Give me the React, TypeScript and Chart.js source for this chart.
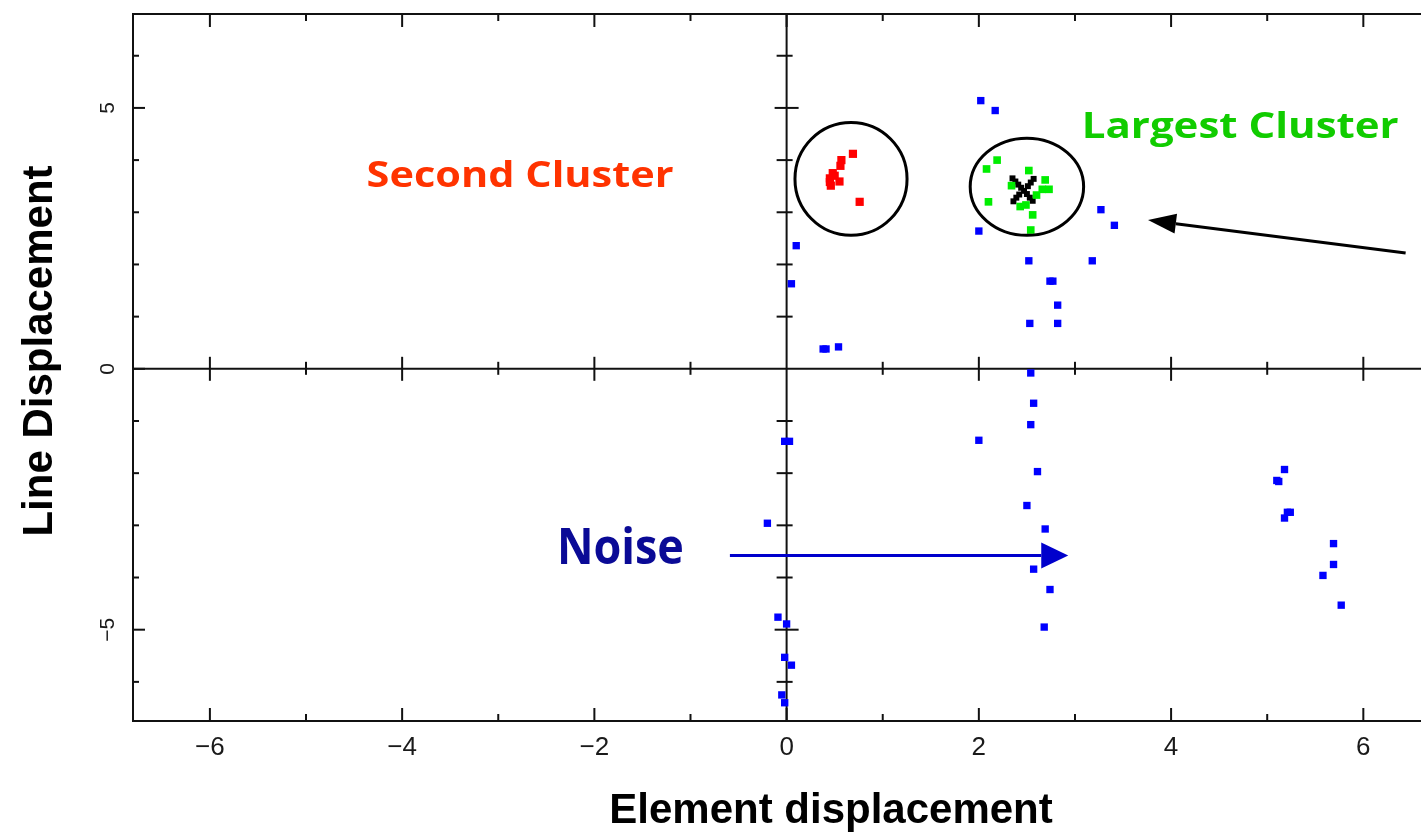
import React, { useEffect, useRef } from "react";
import { Chart, registerables } from "chart.js";

Chart.register(...registerables);

// ---------- data ----------
const blueX = [2.02, 2.17, 0.10, 0.05, 0.41, 0.54, 2.00, 2.52, 2.77, 2.82, 2.53, 2.82, 3.27, 3.41, 3.18,
  2.54, 2.57, 2.54, 2.00, -0.02, 2.61, 2.50, 2.69, -0.20, 2.57, 2.74, 2.68, -0.09, 0.00, -0.02, 0.05, -0.05, -0.02,
  5.18, 5.12, 5.24, 5.18, 5.69, 5.69, 5.58, 5.77, 2.74, 0.38, 5.10, 5.21, 0.03];
const blueY = [5.14, 4.95, 2.36, 1.63, 0.38, 0.42, 2.64, 2.07, 1.68, 1.22, 0.87, 0.87, 3.05, 2.75, 2.07,
  -0.08, -0.66, -1.07, -1.37, -1.39, -1.97, -2.62, -3.07, -2.96, -3.84, -4.23, -4.95, -4.76, -4.89, -5.53, -5.68, -6.25, -6.40,
  -1.93, -2.16, -2.75, -2.86, -3.35, -3.75, -3.96, -4.53, 1.68, 0.38, -2.14, -2.75, -1.39];

const redX = [0.69, 0.57, 0.56, 0.48, 0.45, 0.55, 0.46, 0.76, 0.50, 0.45];
const redY = [4.12, 4.00, 3.89, 3.75, 3.65, 3.59, 3.51, 3.20, 3.70, 3.58];

const greenX = [2.19, 2.08, 2.52, 2.69, 2.73, 2.66, 2.34, 2.60, 2.10, 2.43, 2.49, 2.56, 2.54];
const greenY = [4.00, 3.83, 3.80, 3.62, 3.44, 3.44, 3.51, 3.33, 3.20, 3.11, 3.14, 2.95, 2.66];

const blackX = [2.35, 2.38, 2.41, 2.44, 2.47, 2.50, 2.53, 2.56, 2.57, 2.54, 2.51, 2.42, 2.39, 2.36];
const blackY = [3.65, 3.59, 3.53, 3.47, 3.41, 3.35, 3.28, 3.22, 3.64, 3.57, 3.50, 3.34, 3.28, 3.21];

const xMajorTicks = [-6, -4, -2, 0, 2, 4, 6];
const xMinorTicks = [-5, -3, -1, 1, 3, 5];
const yMajorTicks = [-5, 0, 5];
const yMinorTicks = [-6, -4, -3, -2, -1, 1, 2, 3, 4, 6];

const xTitle = "Element displacement";
const yTitle = "Line Displacement";
const secondLabel = "Second Cluster";
const largestLabel = "Largest Cluster";
const noiseLabel = "Noise";

const X_MIN = -6.8, X_MAX = 6.6, Y_MIN = -6.75, Y_MAX = 6.8;

// annotation placement (data coordinates)
const ANNOT = {
  secondText: { x: -4.37, y: 3.49, capH: 26, width: 307, color: "#ff3300" },
  largestText: { x: 3.07, y: 4.43, capH: 26, width: 317, color: "#11cc00" },
  noiseText: { x: -2.39, y: -3.75, capH: 36, width: 127, color: "#0a0a96" },
  circle1: { x: 0.67, y: 3.64, rx: 0.583, ry: 1.08 },
  circle2: { x: 2.50, y: 3.49, rx: 0.59, ry: 0.93 },
  blackArrow: { x1: 6.44, y1: 2.22, x2: 3.76, y2: 2.85 },
  blueArrow: { x1: -0.59, y1: -3.58, x2: 2.93, y2: -3.58 },
};

const fmt = (v: number) => (v < 0 ? "\u2212" + Math.abs(v) : String(v));

function pts(xs: number[], ys: number[]) {
  return xs.map((x, i) => ({ x, y: ys[i] }));
}

function drawArrow(ctx: CanvasRenderingContext2D, x1: number, y1: number, x2: number, y2: number,
  headLen: number, headHalf: number, color: string, lw: number) {
  const ang = Math.atan2(y2 - y1, x2 - x1);
  const bx = x2 - headLen * Math.cos(ang);
  const by = y2 - headLen * Math.sin(ang);
  ctx.save();
  ctx.strokeStyle = color;
  ctx.fillStyle = color;
  ctx.lineWidth = lw;
  ctx.beginPath();
  ctx.moveTo(x1, y1);
  ctx.lineTo(bx, by);
  ctx.stroke();
  ctx.beginPath();
  ctx.moveTo(x2, y2);
  ctx.lineTo(bx + headHalf * Math.sin(ang), by - headHalf * Math.cos(ang));
  ctx.lineTo(bx - headHalf * Math.sin(ang), by + headHalf * Math.cos(ang));
  ctx.closePath();
  ctx.fill();
  ctx.restore();
}

function fitText(ctx: CanvasRenderingContext2D, text: string, left: number, baseline: number,
  capH: number, width: number, color: string) {
  const size = capH / 0.72;
  ctx.save();
  ctx.font = `bold ${size}px "Open Sans", "DejaVu Sans", sans-serif`;
  const w = ctx.measureText(text).width;
  ctx.translate(left, baseline);
  ctx.scale(width / w, 1);
  ctx.fillStyle = color;
  ctx.textAlign = "left";
  ctx.textBaseline = "alphabetic";
  ctx.fillText(text, 0, 0);
  ctx.restore();
}

const overlay = {
  id: "overlay",
  beforeDatasetsDraw(chart: any) {
    const { ctx, chartArea: a, scales } = chart;
    const x = scales.x, y = scales.y;
    const x0 = x.getPixelForValue(0), y0 = y.getPixelForValue(0);
    ctx.save();
    ctx.strokeStyle = "#111";
    ctx.lineWidth = 2;
    const line = (ax: number, ay: number, bx: number, by: number) => {
      ctx.beginPath(); ctx.moveTo(ax, ay); ctx.lineTo(bx, by); ctx.stroke();
    };
    // frame (right side is cropped off)
    ctx.beginPath();
    ctx.moveTo(a.right + 5, a.top);
    ctx.lineTo(a.left, a.top);
    ctx.lineTo(a.left, a.bottom);
    ctx.lineTo(a.right + 5, a.bottom);
    ctx.stroke();
    // crosshair
    line(a.left, y0, a.right + 5, y0);
    line(x0, a.top, x0, a.bottom);
    // x ticks
    xMajorTicks.forEach((v) => {
      const px = x.getPixelForValue(v);
      line(px, a.bottom, px, a.bottom - 13);
      line(px, a.top, px, a.top + 13);
      if (v !== 0) line(px, y0 - 12, px, y0 + 12);
    });
    xMinorTicks.forEach((v) => {
      const px = x.getPixelForValue(v);
      line(px, a.bottom, px, a.bottom - 7);
      line(px, a.top, px, a.top + 7);
      line(px, y0 - 7, px, y0 + 6);
    });
    yMajorTicks.forEach((v) => {
      const py = y.getPixelForValue(v);
      line(a.left, py, a.left + 12, py);
      if (v !== 0) line(x0 - 12, py, x0 + 12, py);
    });
    yMinorTicks.forEach((v) => {
      const py = y.getPixelForValue(v);
      line(a.left, py, a.left + 6, py);
      line(x0 - 10, py, x0 + 6, py);
    });
    ctx.restore();
  },
  afterDatasetsDraw(chart: any) {
    const { ctx, chartArea: a, scales } = chart;
    const x = scales.x, y = scales.y;
    const X = (v: number) => x.getPixelForValue(v);
    const Y = (v: number) => y.getPixelForValue(v);
    ctx.save();
    // tick labels
    ctx.fillStyle = "#1a1a1a";
    ctx.font = '26px "Liberation Sans", Arial, sans-serif';
    ctx.textAlign = "center";
    ctx.textBaseline = "alphabetic";
    xMajorTicks.forEach((v) => ctx.fillText(fmt(v), X(v), a.bottom + 34));
    ctx.font = '21px "Liberation Sans", Arial, sans-serif';
    yMajorTicks.forEach((v) => {
      ctx.save();
      ctx.translate(a.left - 19, Y(v));
      ctx.rotate(-Math.PI / 2);
      ctx.fillText(fmt(v), 0, 0);
      ctx.restore();
    });
    // axis titles
    ctx.fillStyle = "#000";
    ctx.font = 'bold 42px "Liberation Sans", Arial, sans-serif';
    ctx.fillText(xTitle, 831, 823);
    ctx.save();
    ctx.translate(52, 351);
    ctx.rotate(-Math.PI / 2);
    ctx.fillText(yTitle, 0, 0);
    ctx.restore();

    // circles
    ctx.strokeStyle = "#000";
    ctx.lineWidth = 3;
    [ANNOT.circle1, ANNOT.circle2].forEach((c) => {
      const cx = X(c.x), cy = Y(c.y);
      const rx = Math.abs(X(c.x + c.rx) - cx), ry = Math.abs(Y(c.y + c.ry) - cy);
      ctx.beginPath();
      ctx.ellipse(cx, cy, rx, ry, 0, 0, Math.PI * 2);
      ctx.stroke();
    });
    // arrows
    const ba = ANNOT.blackArrow;
    drawArrow(ctx, X(ba.x1), Y(ba.y1), X(ba.x2), Y(ba.y2), 28, 10, "#000", 3);
    const bl = ANNOT.blueArrow;
    drawArrow(ctx, X(bl.x1), Y(bl.y1), X(bl.x2), Y(bl.y2), 27, 13, "#0000cc", 3);
    // annotation texts
    const s = ANNOT.secondText, l = ANNOT.largestText, n = ANNOT.noiseText;
    fitText(ctx, secondLabel, X(s.x), Y(s.y), s.capH, s.width, s.color);
    fitText(ctx, largestLabel, X(l.x), Y(l.y), l.capH, l.width, l.color);
    fitText(ctx, noiseLabel, X(n.x), Y(n.y), n.capH, n.width, n.color);
    ctx.restore();
  },
};

export default function App() {
  const ref = useRef<HTMLCanvasElement | null>(null);
  useEffect(() => {
    document.body.style.margin = "0";
    const canvas = ref.current;
    if (!canvas) return;
    const mk = (data: any[], color: string, r: number) => ({
      data,
      showLine: false,
      backgroundColor: color,
      borderColor: color,
      borderWidth: 0,
      pointStyle: "rect",
      pointRadius: r,
      pointHoverRadius: r,
    });
    const chart = new Chart(canvas, {
      type: "scatter",
      data: {
        datasets: [
          mk(pts(blueX, blueY), "#0000ff", 5.2),
          mk(pts(greenX, greenY), "#00ee00", 5.4),
          mk(pts(redX, redY), "#ff0000", 5.8),
          mk(pts(blackX, blackY), "#000000", 4.2),
        ],
      },
      options: {
        animation: false,
        responsive: false,
        devicePixelRatio: 1,
        layout: { autoPadding: false, padding: { left: 133, top: 14, right: 0, bottom: 118 } },
        plugins: { legend: { display: false }, tooltip: { enabled: false } },
        events: [],
        scales: {
          x: { type: "linear", min: X_MIN, max: X_MAX, display: false },
          y: { type: "linear", min: Y_MIN, max: Y_MAX, display: false },
        },
      },
      plugins: [overlay],
    });
    return () => chart.destroy();
  }, []);
  return (
    <div style={{ width: 1421, height: 839, background: "#fff" }}>
      <canvas ref={ref} width={1421} height={839} style={{ display: "block" }} />
    </div>
  );
}
